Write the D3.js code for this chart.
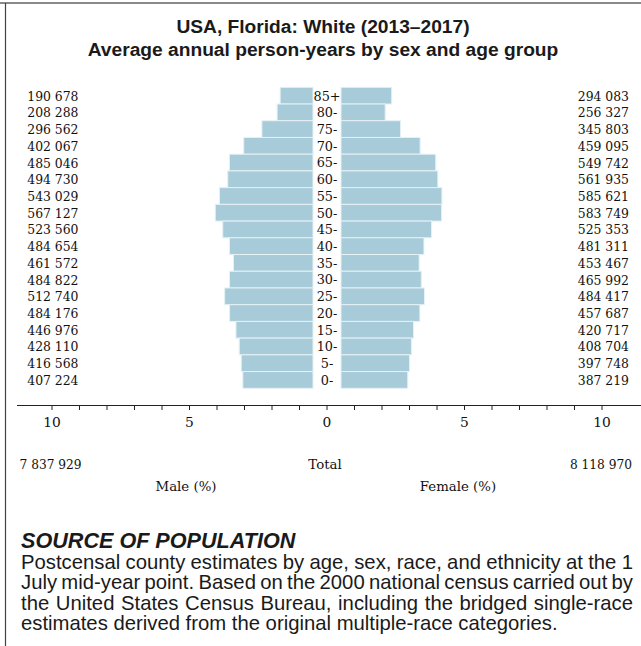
<!DOCTYPE html>
<html>
<head>
<meta charset="utf-8">
<script src="https://cdn.jsdelivr.net/npm/d3@7"></script>
<style>
  html, body { margin: 0; padding: 0; background: #fff; }
  svg { display: block; }
</style>
</head>
<body>
<svg id="chart" width="641" height="646"></svg>
<script>
// ---- data ----
const ages = ["85+","80-","75-","70-","65-","60-","55-","50-","45-","40-","35-","30-","25-","20-","15-","10-","5-","0-"];
const male = [190678,208288,296562,402067,485046,494730,543029,567127,523560,484654,461572,484822,512740,484176,446976,428110,416568,407224];
const female = [294083,256327,345803,459095,549742,561935,585621,583749,525353,481311,453467,465992,484417,457687,420717,408704,397748,387219];
const tickValues = [-10,-9,-8,-7,-6,-5,-4,-3,-2,-1,0,1,2,3,4,5,6,7,8,9,10];
const tickLabels = [-10,-5,0,5,10];
const titleLines = ["USA, Florida: White (2013–2017)", "Average annual person-years by sex and age group"];
const sourceHeading = "SOURCE OF POPULATION";
const sourceLines = [
  "Postcensal county estimates by age, sex, race, and ethnicity at the 1",
  "July mid-year point. Based on the 2000 national census carried out by",
  "the United States Census Bureau, including the bridged single-race",
  "estimates derived from the original multiple-race categories."
];

const totalMale = d3.sum(male);
const totalFemale = d3.sum(female);
const grand = totalMale + totalFemale;

const fmt = d3.formatLocale({decimal: ".", thousands: " ", grouping: [3], currency: ["", ""]}).format(",d");

const svg = d3.select("#chart");
const serif = "'DejaVu Serif', serif";
const sans = "'Liberation Sans', Arial, sans-serif";
const barColor = "#a7cbd9";
const ink = "#111";

// frame
svg.append("line").attr("x1", 0).attr("x2", 641).attr("y1", 3).attr("y2", 3)
  .attr("stroke", "#8a8a8a").attr("stroke-width", 2);
svg.append("line").attr("x1", 5.5).attr("x2", 5.5).attr("y1", 3).attr("y2", 646)
  .attr("stroke", "#444").attr("stroke-width", 1.2);

// title
svg.selectAll("text.title").data(titleLines).join("text")
  .attr("class", "title")
  .attr("x", 323).attr("y", (d, i) => 32.5 + i * 23.5)
  .attr("text-anchor", "middle")
  .attr("font-family", sans).attr("font-weight", "bold").attr("font-size", 19.2)
  .attr("fill", "#1a1a1a")
  .text(d => d);

// scales
const center = 327;
const halfGap = 14;
const pctLen = d3.scaleLinear().domain([0, 10]).range([0, 275]);
const xAxis = d3.scaleLinear().domain([-10, 10]).range([center - 275, center + 275]);
const y = d3.scaleBand().domain(ages).range([87.3, 388.3]).padding(0);

const pct = v => v / grand * 100;

// male bars
svg.append("g").selectAll("rect").data(ages).join("rect")
  .attr("x", (d, i) => center - halfGap - pctLen(pct(male[i])))
  .attr("y", d => y(d))
  .attr("width", (d, i) => pctLen(pct(male[i])))
  .attr("height", y.bandwidth())
  .attr("fill", barColor).attr("stroke", "#e6f1f5").attr("stroke-width", 1);

// female bars
svg.append("g").selectAll("rect").data(ages).join("rect")
  .attr("x", center + halfGap)
  .attr("y", d => y(d))
  .attr("width", (d, i) => pctLen(pct(female[i])))
  .attr("height", y.bandwidth())
  .attr("fill", barColor).attr("stroke", "#e6f1f5").attr("stroke-width", 1);

// age labels
svg.append("g").selectAll("text").data(ages).join("text")
  .attr("x", center).attr("y", d => y(d) + y.bandwidth() / 2)
  .attr("dy", "0.38em")
  .attr("text-anchor", "middle")
  .attr("font-family", serif).attr("font-size", 12.8).attr("fill", ink)
  .text(d => d);

// left / right value labels
svg.append("g").selectAll("text").data(ages).join("text")
  .attr("x", 78.5).attr("y", d => y(d) + y.bandwidth() / 2)
  .attr("dy", "0.4em").attr("text-anchor", "end")
  .attr("font-family", serif).attr("font-size", 12.4).attr("fill", ink)
  .text((d, i) => fmt(male[i]));
svg.append("g").selectAll("text").data(ages).join("text")
  .attr("x", 629).attr("y", d => y(d) + y.bandwidth() / 2)
  .attr("dy", "0.4em").attr("text-anchor", "end")
  .attr("font-family", serif).attr("font-size", 12.4).attr("fill", ink)
  .text((d, i) => fmt(female[i]));

// axis
const axisY = 405.5;
const axisG = svg.append("g").attr("transform", `translate(0,${axisY})`);
axisG.append("line").attr("x1", 17).attr("x2", 641).attr("y1", 0).attr("y2", 0)
  .attr("stroke", "#222").attr("stroke-width", 1.2);
axisG.selectAll("line.tick").data(tickValues).join("line")
  .attr("class", "tick")
  .attr("x1", d => xAxis(d)).attr("x2", d => xAxis(d))
  .attr("y1", 0).attr("y2", 4.5)
  .attr("stroke", "#222").attr("stroke-width", 1);
axisG.selectAll("text").data(tickLabels).join("text")
  .attr("x", d => xAxis(d)).attr("y", 21)
  .attr("text-anchor", "middle")
  .attr("font-family", serif).attr("font-size", 13.8).attr("fill", ink)
  .text(d => Math.abs(d));

// totals
svg.append("text").attr("x", 19.5).attr("y", 469)
  .attr("font-family", serif).attr("font-size", 12.2).attr("fill", ink)
  .text(fmt(totalMale));
svg.append("text").attr("x", 325).attr("y", 469).attr("text-anchor", "middle")
  .attr("font-family", serif).attr("font-size", 13.3).attr("fill", ink)
  .text("Total");
svg.append("text").attr("x", 632).attr("y", 469).attr("text-anchor", "end")
  .attr("font-family", serif).attr("font-size", 12.2).attr("fill", ink)
  .text(fmt(totalFemale));
svg.append("text").attr("x", 186).attr("y", 491).attr("text-anchor", "middle")
  .attr("font-family", serif).attr("font-size", 13.3).attr("fill", ink)
  .text("Male (%)");
svg.append("text").attr("x", 458).attr("y", 491).attr("text-anchor", "middle")
  .attr("font-family", serif).attr("font-size", 13.3).attr("fill", ink)
  .text("Female (%)");

// source block
svg.append("text").attr("x", 21).attr("y", 548)
  .attr("font-family", sans).attr("font-weight", "bold").attr("font-style", "italic")
  .attr("font-size", 21.6).attr("fill", "#1a1a1a")
  .text(sourceHeading);

const bodyW = 612;
sourceLines.forEach((line, i) => {
  const t = svg.append("text").attr("x", 21).attr("y", 569 + i * 20.3)
    .attr("font-family", sans).attr("font-size", 20.3).attr("fill", "#1a1a1a")
    .text(line);
  if (i < sourceLines.length - 1) {
    const natural = t.node().getComputedTextLength();
    const spaces = (line.match(/ /g) || []).length;
    t.attr("word-spacing", (bodyW - natural) / spaces);
  }
});
</script>
</body>
</html>
